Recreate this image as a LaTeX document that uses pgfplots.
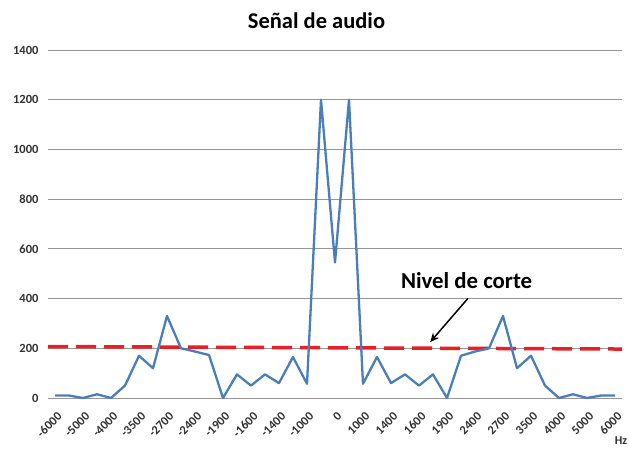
\documentclass[border=0pt]{standalone}
\usepackage{fontspec}
\setmainfont{Carlito}
\usepackage{pgfplots}
\pgfplotsset{compat=1.18}
\usetikzlibrary{arrows.meta}
\definecolor{lineblue}{RGB}{74,126,187}
\definecolor{cutred}{RGB}{232,30,40}
\definecolor{gridgray}{RGB}{150,150,150}
\definecolor{labelgray}{RGB}{50,50,50}
\begin{document}
\begin{tikzpicture}
\useasboundingbox (-48pt,-50pt) rectangle (581pt,398pt);
\begin{axis}[
  at={(0pt,0pt)}, anchor=south west,
  width=574pt, height=348pt, scale only axis,
  xmin=-0.5, xmax=40.5, ymin=0, ymax=1400,
  ytick={0,200,...,1400},
  xtick={0,2,...,40},
  xticklabels={-6000,-5000,-4000,-3500,-2700,-2400,-1900,-1600,-1400,-1000,0,1000,1400,1600,1900,2400,2700,3500,4000,5000,6000},
  ymajorgrids, major grid style={gridgray, line width=0.9pt},
  axis line style={draw=none},
  major tick length=0pt,
  clip=false,
  /pgf/number format/assume math mode=true,
  /pgf/number format/1000 sep={},
  yticklabel style={font=\fontsize{12.5}{13}\selectfont\bfseries, text=labelgray, xshift=-6pt},
  xticklabel style={font=\fontsize{12.5}{13}\selectfont\bfseries, text=labelgray, xshift=7pt, yshift=-14pt, rotate=45, anchor=east},
]
\addplot[cutred, line width=3.5pt, dash pattern=on 20pt off 8pt] coordinates {(-0.5,207) (40.5,197)};
\addplot[lineblue, line width=2.3pt, line join=round] coordinates {
(0,10) (1,10) (2,0) (3,15) (4,0) (5,50) (6,170) (7,120) (8,330) (9,200)
(10,187) (11,173) (12,0) (13,95) (14,50) (15,95) (16,60) (17,165) (18,57) (19,1200)
(20,545) (21,1200) (22,57) (23,165) (24,60) (25,95) (26,50) (27,95) (28,0) (29,170)
(30,187) (31,200) (32,330) (33,120) (34,170) (35,50) (36,0) (37,15) (38,0) (39,10) (40,10)
};
\draw[black, line width=1.5pt, -{Stealth[length=9pt,width=8pt]}] (axis cs:29.5,401) -- (axis cs:26.8,225);
\node[font=\fontsize{22.8}{24}\selectfont\bfseries] at (axis cs:29.4,473) {Nivel de corte};
\end{axis}
\node[font=\fontsize{22.5}{24}\selectfont\bfseries] at (268.5pt,377pt) {Señal de audio};
\node[font=\fontsize{12}{13}\selectfont\bfseries, text=labelgray] at (573pt,-43pt) {Hz};
\end{tikzpicture}
\end{document}
